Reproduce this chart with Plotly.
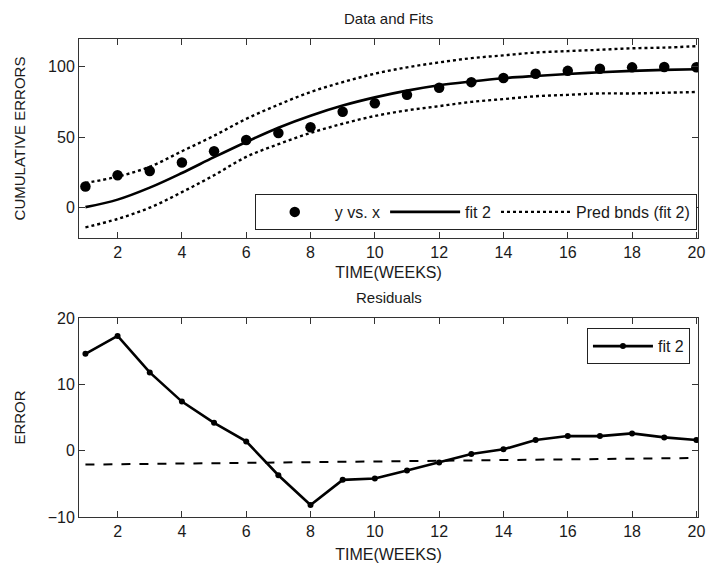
import plotly.graph_objects as go

# ---- data ----
weeks = list(range(1, 21))
cum_errors = [15, 23, 26, 32, 40, 48, 53, 57, 68, 74, 80, 85, 89, 92, 95, 97, 98.5, 99.5, 99.7, 99.6]
fit2 = [0.4, 5.7, 14.2, 24.6, 35.8, 46.6, 56.7, 65.2, 72.4, 78.2, 83.0, 86.8, 89.5, 91.8, 93.4, 94.8, 96.0, 97.0, 97.7, 98.2]
pred_upper = [17.5, 22, 29, 40, 51, 63, 73, 82, 89, 95, 99.5, 103, 106, 108, 110, 111, 112, 113, 113.5, 114.5]
pred_lower = [-14, -8, 0, 11, 23, 36, 45, 53, 59.5, 65, 69, 72, 75, 77, 79, 80, 81, 81, 81.5, 82]
residuals = [14.6, 17.3, 11.8, 7.4, 4.2, 1.4, -3.7, -8.2, -4.4, -4.2, -3.0, -1.8, -0.5, 0.2, 1.6, 2.2, 2.2, 2.6, 2.0, 1.6]
trend_x = [1, 20]
trend_y = [-2.1, -1.1]

FONT = "Liberation Sans, Arial, sans-serif"
TXT = "#1a1a1a"

fig = go.Figure()

fig.add_trace(go.Scatter(x=weeks, y=cum_errors, mode="markers", name="y vs. x",
                         marker=dict(color="black", size=10.5, symbol="circle"),
                         xaxis="x", yaxis="y", legend="legend"))
fig.add_trace(go.Scatter(x=weeks, y=fit2, mode="lines", name="fit 2",
                         line=dict(color="black", width=2.6, shape="spline"),
                         xaxis="x", yaxis="y", legend="legend"))
fig.add_trace(go.Scatter(x=weeks, y=pred_upper, mode="lines", name="Pred bnds (fit 2)",
                         line=dict(color="black", width=2.4, dash="dot", shape="spline"),
                         xaxis="x", yaxis="y", legend="legend", legendgroup="pb"))
fig.add_trace(go.Scatter(x=weeks, y=pred_lower, mode="lines", name="Pred bnds (fit 2)",
                         line=dict(color="black", width=2.4, dash="dot", shape="spline"),
                         xaxis="x", yaxis="y", legend="legend", legendgroup="pb", showlegend=False))

fig.add_trace(go.Scatter(x=weeks, y=residuals, mode="lines+markers", name="fit 2",
                         line=dict(color="black", width=2.6),
                         marker=dict(color="black", size=6),
                         xaxis="x2", yaxis="y2", legend="legend2"))
fig.add_trace(go.Scatter(x=trend_x, y=trend_y, mode="lines", name="trend",
                         line=dict(color="black", width=2, dash="dash"),
                         xaxis="x2", yaxis="y2", showlegend=False))

axis_common = dict(showline=True, linecolor="#333", linewidth=1, mirror="ticks",
                   ticks="inside", ticklen=6, tickwidth=1, tickcolor="#333",
                   showgrid=False, zeroline=False, ticklabeloverflow="allow",
                   automargin=False,
                   tickfont=dict(family=FONT, size=16, color=TXT))

fig.update_layout(
    width=707, height=566,
    margin=dict(l=79, r=9, t=39, b=49),
    paper_bgcolor="white", plot_bgcolor="white",
    font=dict(family=FONT, size=15, color=TXT),
    xaxis=dict(domain=[0, 1], range=[0.8, 20.05], tickvals=list(range(2, 21, 2)),
               anchor="y", title=dict(text="TIME(WEEKS)", standoff=6,
                                      font=dict(family=FONT, size=16, color=TXT)),
               **axis_common),
    yaxis=dict(domain=[0.5837, 1], range=[-21.5, 119.6], tickvals=[0, 50, 100],
               anchor="x", title=dict(text="CUMULATIVE ERRORS", standoff=18,
                                      font=dict(family=FONT, size=15, color=TXT)),
               **axis_common),
    xaxis2=dict(domain=[0, 1], range=[0.8, 20.05], tickvals=list(range(2, 21, 2)),
                anchor="y2", title=dict(text="TIME(WEEKS)", standoff=9,
                                        font=dict(family=FONT, size=16, color=TXT)),
                **axis_common),
    yaxis2=dict(domain=[0, 0.4163], range=[-10, 20], tickvals=[-10, 0, 10, 20],
                anchor="x2", title=dict(text="ERROR", standoff=18,
                                        font=dict(family=FONT, size=15, color=TXT)),
                **axis_common),
    legend=dict(orientation="h", x=0.998, xanchor="right", y=0.6004, yanchor="bottom",
                bgcolor="white", bordercolor="#222", borderwidth=1,
                font=dict(family=FONT, size=16, color=TXT), itemwidth=70),
    legend2=dict(x=0.987, xanchor="right", y=0.395, yanchor="top",
                 bgcolor="white", bordercolor="#222", borderwidth=1,
                 font=dict(family=FONT, size=16, color=TXT), itemwidth=60),
    annotations=[
        dict(text="Data and Fits", xref="paper", yref="paper", x=0.5, y=1,
             yshift=31, showarrow=False, font=dict(family=FONT, size=15, color=TXT)),
        dict(text="Residuals", xref="paper", yref="paper", x=0.5, y=0.4163,
             yshift=21, showarrow=False, font=dict(family=FONT, size=15, color=TXT)),
    ],
    showlegend=True,
)

fig.write_html("out.html", config={"displayModeBar": False},
               post_script="document.body.style.margin='0';")
